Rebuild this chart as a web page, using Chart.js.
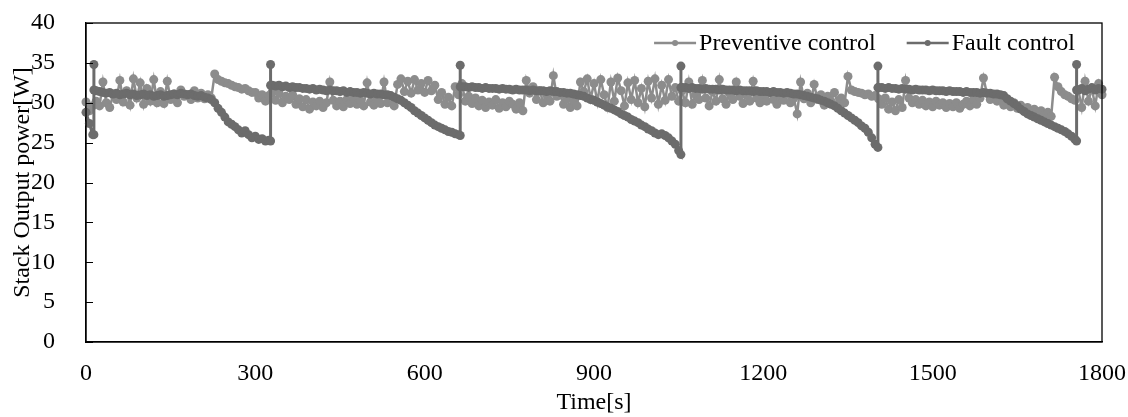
<!DOCTYPE html>
<html>
<head>
<meta charset="utf-8">
<script src="https://cdn.jsdelivr.net/npm/chart.js@4.4.0/dist/chart.umd.min.js"></script>
<style>
html, body { margin: 0; padding: 0; background: #fff; }
#grafica { display: block; }
</style>
</head>
<body>
<canvas id="grafica" width="1128" height="417"></canvas>
<script>
// tiempo de muestreo [s]
const times = [
  0,6,12,18,24,30,36,42,48,54,
  60,66,72,78,84,90,96,102,108,114,
  120,126,132,138,144,150,156,162,168,174,
  180,186,192,198,204,210,216,222,228,234,
  240,246,252,258,264,270,276,282,288,294,
  300,306,312,318,324,330,336,342,348,354,
  360,366,372,378,384,390,396,402,408,414,
  420,426,432,438,444,450,456,462,468,474,
  480,486,492,498,504,510,516,522,528,534,
  540,546,552,558,564,570,576,582,588,594,
  600,606,612,618,624,630,636,642,648,654,
  660,666,672,678,684,690,696,702,708,714,
  720,726,732,738,744,750,756,762,768,774,
  780,786,792,798,804,810,816,822,828,834,
  840,846,852,858,864,870,876,882,888,894,
  900,906,912,918,924,930,936,942,948,954,
  960,966,972,978,984,990,996,1002,1008,1014,
  1020,1026,1032,1038,1044,1050,1056,1062,1068,1074,
  1080,1086,1092,1098,1104,1110,1116,1122,1128,1134,
  1140,1146,1152,1158,1164,1170,1176,1182,1188,1194,
  1200,1206,1212,1218,1224,1230,1236,1242,1248,1254,
  1260,1266,1272,1278,1284,1290,1296,1302,1308,1314,
  1320,1326,1332,1338,1344,1350,1356,1362,1368,1374,
  1380,1386,1392,1398,1404,1410,1416,1422,1428,1434,
  1440,1446,1452,1458,1464,1470,1476,1482,1488,1494,
  1500,1506,1512,1518,1524,1530,1536,1542,1548,1554,
  1560,1566,1572,1578,1584,1590,1596,1602,1608,1614,
  1620,1626,1632,1638,1644,1650,1656,1662,1668,1674,
  1680,1686,1692,1698,1704,1710,1716,1722,1728,1734,
  1740,1746,1752,1758,1764,1770,1776,1782,1788,1794,
  1800
];

// Preventive control [W]
const preventivePower = [
  30.1,29.0,29.6,30.2,29.6,32.6,30.0,29.4,31.0,30.4,
  32.8,30.1,31.5,29.7,33.0,30.6,32.5,29.8,31.8,30.2,
  32.9,30.0,31.4,29.9,32.7,30.4,31.1,30.0,31.6,30.8,
  31.0,30.4,31.5,30.6,31.2,30.5,31.0,30.6,33.6,32.9,
  32.7,32.5,32.4,32.2,32.0,31.9,31.7,31.8,31.5,31.3,
  31.3,30.6,31.0,30.2,30.9,31.4,30.3,31.2,30.0,30.8,
  30.4,31.0,29.8,30.5,29.5,30.4,29.2,30.1,29.6,30.2,
  29.4,30.0,32.6,30.3,29.6,30.2,29.5,30.4,29.9,30.6,
  29.8,30.3,29.6,32.5,30.1,29.7,30.4,29.9,32.6,30.0,
  30.5,29.6,32.3,33.0,31.4,32.7,31.2,32.9,31.6,32.4,
  31.3,32.8,31.5,32.2,30.4,31.3,29.8,30.7,29.6,32.0,
  31.0,32.4,30.2,30.8,29.9,30.6,29.6,30.3,29.4,30.1,
  29.7,30.4,29.3,30.0,29.5,30.2,29.8,29.2,30.0,29.0,
  32.8,31.2,32.0,30.4,31.5,30.0,31.0,30.2,33.4,30.8,
  31.0,29.8,30.5,29.4,30.2,29.6,32.6,31.4,33.0,30.5,
  32.4,30.1,32.9,31.0,29.4,32.6,30.2,33.1,31.5,29.6,
  32.5,30.4,32.8,30.0,31.8,29.5,32.7,30.6,33.0,29.8,
  32.2,30.3,32.9,30.8,31.9,30.2,31.5,30.0,32.6,29.8,
  31.0,30.4,32.8,30.6,29.6,31.4,30.2,32.9,30.5,29.8,
  31.2,30.4,32.6,30.8,29.9,31.0,30.2,32.7,30.6,30.0,
  30.8,30.2,31.3,30.4,29.8,30.9,30.3,31.1,30.0,30.6,
  28.6,32.6,30.5,31.2,30.0,32.3,30.4,31.0,29.7,30.8,
  30.2,31.3,29.8,30.6,30.0,33.3,31.6,31.4,31.3,31.2,
  31.0,31.1,30.8,30.9,30.5,29.8,30.6,29.2,30.1,29.0,
  30.4,29.4,32.8,30.6,30.0,30.4,29.8,30.3,29.6,30.1,
  29.5,30.2,29.7,30.0,29.4,29.9,29.5,30.0,29.3,29.8,
  30.2,29.6,30.4,29.8,30.6,33.1,31.2,30.4,31.0,30.2,
  30.6,29.7,30.4,29.5,30.0,29.3,29.7,29.0,29.4,28.8,
  29.2,28.6,29.0,28.4,28.8,28.3,33.2,32.0,31.4,31.0,
  30.8,30.5,30.3,31.6,29.4,32.7,30.2,31.8,29.6,32.4,
  31.0
];

// Fault control [W]
const faultPower = [
  28.8,27.4,26.0,31.5,31.4,31.3,31.2,31.3,31.1,31.2,
  31.0,31.1,31.2,31.0,31.1,30.9,31.0,31.1,30.9,31.0,
  30.8,30.9,31.0,30.8,30.9,31.0,31.1,31.0,31.2,31.1,
  31.0,31.1,30.9,30.8,30.9,30.7,30.6,30.4,30.0,29.3,
  28.8,28.2,27.6,27.3,27.0,26.6,26.2,26.5,26.0,25.6,
  25.8,25.4,25.5,25.2,25.3,32.2,32.1,32.2,32.0,32.1,
  31.9,32.0,31.9,31.9,31.8,31.8,31.7,31.8,31.6,31.7,
  31.6,31.5,31.6,31.5,31.5,31.4,31.5,31.3,31.4,31.3,
  31.3,31.2,31.3,31.2,31.1,31.2,31.1,31.1,31.0,31.0,
  30.9,30.7,30.5,30.3,30.0,29.7,29.4,29.0,28.7,28.4,
  28.1,27.8,27.5,27.2,27.0,26.8,26.6,26.4,26.3,26.1,
  26.0,32.0,32.0,31.9,32.0,31.9,31.9,31.8,31.9,31.8,
  31.8,31.8,31.7,31.8,31.7,31.7,31.6,31.7,31.6,31.6,
  31.6,31.5,31.6,31.5,31.5,31.5,31.4,31.5,31.4,31.4,
  31.3,31.3,31.2,31.2,31.1,31.0,30.9,30.8,30.6,30.4,
  30.3,30.1,29.9,29.7,29.5,29.3,29.1,28.9,28.6,28.4,
  28.2,27.9,27.7,27.5,27.2,27.0,26.7,26.5,26.2,26.0,
  26.1,25.9,25.6,25.2,24.8,24.0,31.9,31.9,31.8,31.9,
  31.8,31.8,31.7,31.8,31.7,31.7,31.7,31.6,31.7,31.6,
  31.6,31.6,31.5,31.6,31.5,31.5,31.5,31.4,31.5,31.4,
  31.4,31.4,31.3,31.4,31.3,31.3,31.2,31.3,31.2,31.1,
  31.1,31.0,30.9,30.8,30.7,30.6,30.5,30.3,30.2,30.0,
  29.8,29.6,29.3,29.0,28.7,28.4,28.1,27.8,27.5,27.1,
  26.8,26.3,25.6,24.8,31.9,31.9,31.8,31.9,31.8,31.8,
  31.7,31.8,31.7,31.7,31.6,31.7,31.6,31.6,31.6,31.5,
  31.6,31.5,31.5,31.5,31.4,31.5,31.4,31.4,31.4,31.3,
  31.4,31.3,31.3,31.3,31.2,31.3,31.2,31.2,31.1,31.1,
  31.0,30.9,30.5,30.2,29.9,29.6,29.2,28.9,28.6,28.4,
  28.2,28.0,27.8,27.6,27.4,27.2,27.0,26.8,26.6,26.4,
  26.1,25.8,25.4,31.6,31.8,31.5,31.7,31.9,31.6,31.8,
  31.7
];

// picos verticales de Fault control
const faultSpikeTimes = [14, 327, 663, 1054, 1403, 1755];
const faultSpikeLow   = [26.0, 25.2, 25.9, 23.5, 24.4, 25.2];
const faultSpikePeak  = [34.8, 34.8, 34.7, 34.6, 34.6, 34.8];
const faultSpikeAfter = [31.6, 32.2, 32.0, 31.9, 31.9, 31.6];

const xTicks = [0, 300, 600, 900, 1200, 1500, 1800];
const yTicks = [0, 5, 10, 15, 20, 25, 30, 35, 40];
const seriesNames = ['Preventive control', 'Fault control'];

const colorPrev = '#8c8c8c';
const colorFault = '#6c6c6c';
const fuente = '"Liberation Serif", "Times New Roman", serif';

function puntos(valores) {
    return times.map((t, i) => ({x: t, y: valores[i]}));
}

function conPicos(valores) {
    const out = [];
    let k = 0;
    times.forEach((t, i) => {
        while (k < faultSpikeTimes.length && faultSpikeTimes[k] < t) {
            const ts = faultSpikeTimes[k];
            out.push({x: ts, y: faultSpikeLow[k]});
            out.push({x: ts, y: faultSpikePeak[k]});
            out.push({x: ts, y: faultSpikeAfter[k]});
            k++;
        }
        out.push({x: t, y: valores[i]});
    });
    return out;
}

// marco del area, marcas hacia dentro del eje y, y leyenda
const marco = {
    id: 'marco',
    afterDraw(chart) {
        const {ctx, chartArea: a} = chart;
        const ys = chart.scales.y;
        ctx.save();
        ctx.strokeStyle = '#000';
        ctx.lineWidth = 1.3;
        ctx.strokeRect(a.left, a.top, a.right - a.left, a.bottom - a.top);

        ctx.beginPath();
        yTicks.forEach(v => {
            const py = Math.round(ys.getPixelForValue(v)) + 0.5;
            ctx.moveTo(a.left, py);
            ctx.lineTo(a.left + 7, py);
        });
        ctx.lineWidth = 1.2;
        ctx.stroke();

        ctx.font = '24px ' + fuente;
        ctx.textBaseline = 'middle';
        const y = a.top + 20;
        const colores = [colorPrev, colorFault];
        let x = a.right - 27;
        for (let i = seriesNames.length - 1; i >= 0; i--) {
            const w = ctx.measureText(seriesNames[i]).width;
            const xt = x - w;
            ctx.fillStyle = '#000';
            ctx.fillText(seriesNames[i], xt, y + 1);
            const x1 = xt - 45, x2 = xt - 3;
            ctx.strokeStyle = colores[i];
            ctx.lineWidth = 2.5;
            ctx.beginPath();
            ctx.moveTo(x1, y);
            ctx.lineTo(x2, y);
            ctx.stroke();
            ctx.fillStyle = colores[i];
            ctx.beginPath();
            ctx.arc((x1 + x2) / 2, y, 3, 0, Math.PI * 2);
            ctx.fill();
            x = x1 - 31;
        }
        ctx.restore();
    }
};

const ctx = document.getElementById('grafica');

new Chart(ctx, {
    type: 'line',
    data: {
        datasets: [{
            label: seriesNames[0],
            data: puntos(preventivePower),
            borderColor: colorPrev,
            backgroundColor: colorPrev,
            borderWidth: 2.5,
            pointRadius: 4.5,
            pointBorderWidth: 0,
            tension: 0,
            clip: false,
            order: 1
        }, {
            label: seriesNames[1],
            data: conPicos(faultPower),
            borderColor: colorFault,
            backgroundColor: colorFault,
            borderWidth: 3,
            pointRadius: 4.5,
            pointBorderWidth: 0,
            tension: 0,
            clip: false,
            order: 0
        }]
    },
    options: {
        responsive: false,
        animation: false,
        devicePixelRatio: 1,
        layout: {padding: {left: 0, right: 26, top: 23, bottom: 0}},
        plugins: {legend: {display: false}, tooltip: {enabled: false}},
        scales: {
            x: {
                type: 'linear',
                min: 0,
                max: 1800,
                afterBuildTicks: s => { s.ticks = xTicks.map(v => ({value: v})); },
                afterFit: s => { s.height = 75; s.paddingLeft = 0; s.paddingRight = 0; },
                grid: {display: false},
                border: {display: true, color: '#000', width: 1.3},
                ticks: {color: '#000', font: {family: fuente, size: 24}, padding: 9, maxRotation: 0, callback: v => String(v)},
                title: {display: true, text: 'Time[s]', color: '#000', font: {family: fuente, size: 24}, padding: {top: 0, bottom: 0}}
            },
            y: {
                min: 0,
                max: 40,
                afterBuildTicks: s => { s.ticks = yTicks.map(v => ({value: v})); },
                afterFit: s => { s.width = 86; s.paddingTop = 0; s.paddingBottom = 0; },
                grid: {display: false},
                border: {display: true, color: '#000', width: 1.3},
                ticks: {color: '#000', font: {family: fuente, size: 24}, padding: 23, callback: v => String(v)},
                title: {display: true, text: 'Stack Output power[W]', color: '#000', font: {family: fuente, size: 24}, padding: {top: 8, bottom: 0}}
            }
        }
    },
    plugins: [marco]
});
</script>
</body>
</html>
